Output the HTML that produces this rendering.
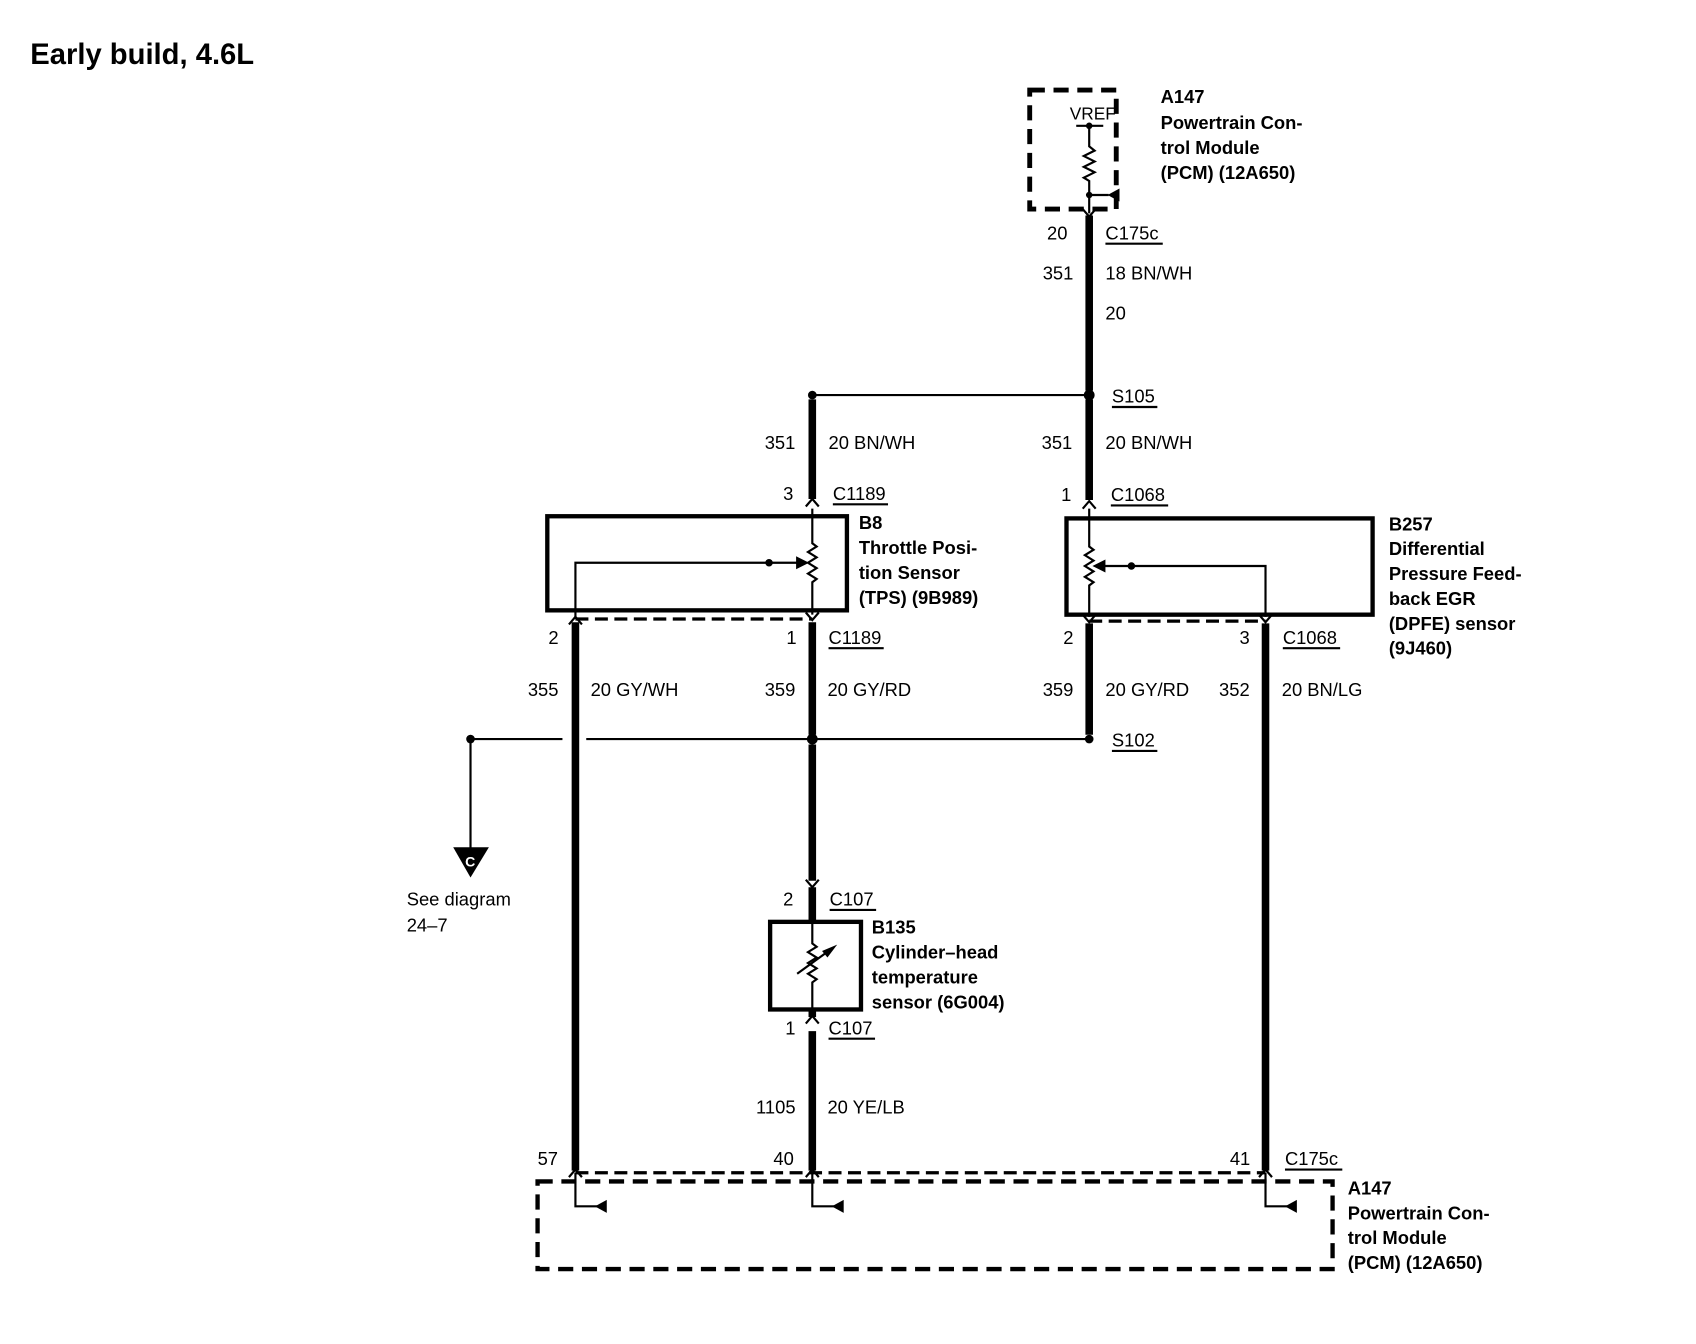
<!DOCTYPE html>
<html><head><meta charset="utf-8"><style>
html,body{margin:0;padding:0;background:#fff;}
svg{display:block;}
text{font-family:"Liberation Sans",Arial,sans-serif;font-size:17px;fill:#000;}
.b{font-weight:bold;}
</style></head><body>
<svg width="1696" height="1344" viewBox="0 0 1568 1242" xmlns="http://www.w3.org/2000/svg">
<text x="28" y="59" class="b" style="font-size:27px">Early build, 4.6L</text>

<!-- top PCM -->
<rect x="952" y="83" width="80" height="110" fill="none" stroke="#000" stroke-width="4.5" stroke-dasharray="14,8"/>
<text x="989" y="110" style="font-size:16px">VREF</text>
<line x1="995" y1="116" x2="1020" y2="116" stroke="#000" stroke-width="2"/>
<circle cx="1007" cy="116" r="3"/>
<polyline points="1007,116 1007,135 1012,139 1002,144 1012,149 1002,154 1012,159 1002,164 1007,167 1007,197" fill="none" stroke="#000" stroke-width="2"/>
<circle cx="1007" cy="180" r="3"/>
<line x1="1007" y1="180" x2="1025" y2="180" stroke="#000" stroke-width="2"/>
<path d="M1024,180 L1035,174 L1035,186Z"/>
<text x="1073" y="95" class="b">A147</text>
<text x="1073" y="119" class="b">Powertrain Con-</text>
<text x="1073" y="142" class="b">trol Module</text>
<text x="1073" y="165" class="b">(PCM) (12A650)</text>

<g fill="none" stroke="#000" stroke-width="2">
<path d="M1001,193 L1007,200 L1013,193"/>
<path d="M745,468 L751,461 L757,468"/>
<path d="M1001,470 L1007,463 L1013,470"/>
<path d="M526,577 L532,570 L538,577"/>
<path d="M745,566 L751,573 L757,566"/>
<path d="M1001,568 L1007,575 L1013,568"/>
<path d="M1164,568 L1170,575 L1176,568"/>
<path d="M745,813 L751,820 L757,813"/>
<path d="M745,946 L751,939 L757,946"/>
<path d="M526,1088 L532,1081 L538,1088"/>
<path d="M745,1088 L751,1081 L757,1088"/>
<path d="M1164,1088 L1170,1081 L1176,1088"/>
</g>

<g stroke="#000" stroke-width="7">
<line x1="1007" y1="199" x2="1007" y2="361"/>
<line x1="1007" y1="369" x2="1007" y2="462"/>
<line x1="751" y1="369" x2="751" y2="461"/>
<line x1="532" y1="575" x2="532" y2="1082"/>
<line x1="751" y1="575" x2="751" y2="679"/>
<line x1="751" y1="688" x2="751" y2="814"/>
<line x1="1007" y1="576" x2="1007" y2="679"/>
<line x1="1170" y1="576" x2="1170" y2="1082"/>
<line x1="751" y1="820" x2="751" y2="851"/>
<line x1="751" y1="933" x2="751" y2="940"/>
<line x1="751" y1="953" x2="751" y2="1082"/>
</g>

<g stroke="#000" stroke-width="2" fill="none">
<line x1="751" y1="365" x2="1007" y2="365"/>
<line x1="435" y1="683" x2="520" y2="683"/>
<line x1="542" y1="683" x2="1007" y2="683"/>
<line x1="435" y1="683" x2="435" y2="785"/>
</g>
<circle cx="751" cy="365" r="4"/><circle cx="1007" cy="365" r="5"/>
<circle cx="435" cy="683" r="4"/><circle cx="751" cy="683" r="5"/><circle cx="1007" cy="683" r="4"/>

<rect x="506" y="477" width="277" height="87" fill="none" stroke="#000" stroke-width="4"/>
<g stroke="#000" stroke-width="2" fill="none">
<polyline points="751,470 751,502 755,505 747,510 755,515 747,520 755,525 747,530 755,535 751,538 751,568"/>
<polyline points="532,572 532,520 738,520"/>
<line x1="532" y1="572" x2="751" y2="572" stroke-dasharray="12,6" stroke-width="3"/>
</g>
<path d="M748,520 L736,514 L736,526Z"/><circle cx="711" cy="520" r="3.5"/>
<text x="794" y="489" class="b">B8</text>
<text x="794" y="512" class="b">Throttle Posi-</text>
<text x="794" y="535" class="b">tion Sensor</text>
<text x="794" y="558" class="b">(TPS) (9B989)</text>

<rect x="986" y="479" width="283" height="89" fill="none" stroke="#000" stroke-width="4"/>
<g stroke="#000" stroke-width="2" fill="none">
<polyline points="1007,470 1007,505 1011,508 1003,513 1011,518 1003,523 1011,528 1003,533 1011,538 1007,541 1007,570"/>
<polyline points="1170,570 1170,523 1020,523"/>
<line x1="1007" y1="574" x2="1170" y2="574" stroke-dasharray="12,6" stroke-width="3"/>
</g>
<path d="M1010,523 L1022,517 L1022,529Z"/><circle cx="1046" cy="523" r="3.5"/>
<text x="1284" y="490" class="b">B257</text>
<text x="1284" y="513" class="b">Differential</text>
<text x="1284" y="536" class="b">Pressure Feed-</text>
<text x="1284" y="559" class="b">back EGR</text>
<text x="1284" y="582" class="b">(DPFE) sensor</text>
<text x="1284" y="605" class="b">(9J460)</text>

<rect x="712" y="852" width="84" height="81" fill="none" stroke="#000" stroke-width="4"/>
<g stroke="#000" stroke-width="2" fill="none">
<polyline points="751,852 751,872 755,875 747,880 755,885 747,890 755,895 747,900 755,905 751,908 751,933"/>
<line x1="737" y1="900" x2="770" y2="876"/>
</g>
<path d="M774,873 L760,879 L765,885Z"/>
<text x="806" y="863" class="b">B135</text>
<text x="806" y="886" class="b">Cylinder–head</text>
<text x="806" y="909" class="b">temperature</text>
<text x="806" y="932" class="b">sensor (6G004)</text>

<path d="M419,783 L452,783 L435,811Z"/>
<text x="430" y="801" style="font-size:13px;fill:#fff" class="b">C</text>
<text x="376" y="837">See diagram</text>
<text x="376" y="861">24–7</text>

<line x1="532" y1="1084" x2="1170" y2="1084" stroke="#000" stroke-width="3" stroke-dasharray="12,6"/>
<rect x="497" y="1092" width="735" height="81" fill="none" stroke="#000" stroke-width="4" stroke-dasharray="14,8"/>
<g stroke="#000" stroke-width="2" fill="none">
<polyline points="532,1084 532,1115 552,1115"/>
<polyline points="751,1084 751,1115 771,1115"/>
<polyline points="1170,1084 1170,1115 1190,1115"/>
</g>
<path d="M550,1115 L561,1109 L561,1121Z"/>
<path d="M769,1115 L780,1109 L780,1121Z"/>
<path d="M1188,1115 L1199,1109 L1199,1121Z"/>
<text x="1246" y="1104" class="b">A147</text>
<text x="1246" y="1127" class="b">Powertrain Con-</text>
<text x="1246" y="1150" class="b">trol Module</text>
<text x="1246" y="1173" class="b">(PCM) (12A650)</text>

<g>
<text x="968" y="221">20</text><text x="1022" y="221">C175c</text>
<text x="964" y="258">351</text><text x="1022" y="258">18 BN/WH</text>
<text x="1022" y="295">20</text>
<text x="1028" y="372">S105</text>
<text x="707" y="415">351</text><text x="766" y="415">20 BN/WH</text>
<text x="963" y="415">351</text><text x="1022" y="415">20 BN/WH</text>
<text x="724" y="462">3</text><text x="770" y="462">C1189</text>
<text x="981" y="463">1</text><text x="1027" y="463">C1068</text>
<text x="507" y="595">2</text><text x="727" y="595">1</text><text x="766" y="595">C1189</text>
<text x="983" y="595">2</text><text x="1146" y="595">3</text><text x="1186" y="595">C1068</text>
<text x="488" y="643">355</text><text x="546" y="643">20 GY/WH</text>
<text x="707" y="643">359</text><text x="765" y="643">20 GY/RD</text>
<text x="964" y="643">359</text><text x="1022" y="643">20 GY/RD</text>
<text x="1127" y="643">352</text><text x="1185" y="643">20 BN/LG</text>
<text x="1028" y="690">S102</text>
<text x="724" y="837">2</text><text x="767" y="837">C107</text>
<text x="726" y="956">1</text><text x="766" y="956">C107</text>
<text x="699" y="1029">1105</text><text x="765" y="1029">20 YE/LB</text>
<text x="497" y="1077">57</text><text x="715" y="1077">40</text>
<text x="1137" y="1077">41</text><text x="1188" y="1077">C175c</text>
</g>
<g stroke="#000" stroke-width="2">
<line x1="1022" y1="225" x2="1075" y2="225"/>
<line x1="1028" y1="376" x2="1070" y2="376"/>
<line x1="770" y1="466" x2="821" y2="466"/>
<line x1="1027" y1="467" x2="1080" y2="467"/>
<line x1="766" y1="599" x2="817" y2="599"/>
<line x1="1186" y1="599" x2="1239" y2="599"/>
<line x1="1028" y1="694" x2="1070" y2="694"/>
<line x1="767" y1="841" x2="810" y2="841"/>
<line x1="766" y1="960" x2="809" y2="960"/>
<line x1="1188" y1="1081" x2="1241" y2="1081"/>
</g>
</svg>
</body></html>
